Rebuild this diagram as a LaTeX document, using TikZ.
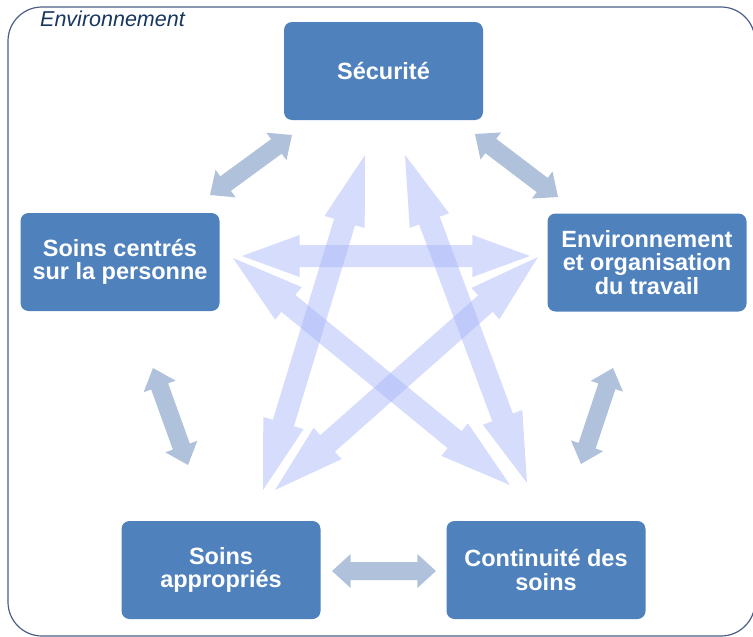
\documentclass[tikz,border=0pt]{standalone}
\usepackage{fontspec}
\setmainfont{Liberation Sans}
\usetikzlibrary{calc}

\definecolor{boxblue}{HTML}{4F81BD}
\definecolor{linkgray}{RGB}{176,193,219}
\definecolor{crossblue}{RGB}{171,185,249}
\definecolor{framenavy}{HTML}{4A5E86}
\definecolor{labelnavy}{HTML}{17375E}

\tikzset{
  pillar/.style={rectangle, rounded corners=8pt, fill=boxblue, text=white,
    minimum width=199pt, minimum height=98pt, inner sep=0pt, align=center,
    font=\fontsize{23.5}{23.5}\selectfont\bfseries},
  sidelink/.style={fill=linkgray},
  crosslink/.style={fill=crossblue, fill opacity=0.5},
}

% double block arrow: [style](from)(to)(head fraction:head half width:shaft half width)
\def\blockarrow[#1](#2)(#3)(#4:#5:#6){%
  \coordinate (ha) at ($(#2)!#4!(#3)$);
  \coordinate (hb) at ($(#3)!#4!(#2)$);
  \fill[#1] (#2) -- ($(ha)!#5!90:(#3)$) -- ($(ha)!#6!90:(#3)$)
    -- ($(hb)!#6!-90:(#2)$) -- ($(hb)!#5!-90:(#2)$) -- (#3)
    -- ($(hb)!#5!90:(#2)$) -- ($(hb)!#6!90:(#2)$)
    -- ($(ha)!#6!-90:(#3)$) -- ($(ha)!#5!-90:(#3)$) -- cycle;}

\begin{document}
\begin{tikzpicture}[x=1pt,y=-1pt]
  \useasboundingbox (0,0) rectangle (753,637);

  % outer frame
  \draw[framenavy, line width=1.2pt, rounded corners=34pt] (8,7) rectangle (755,636);
  \node[anchor=base west, text=labelnavy, inner sep=0pt,
    font=\fontsize{21.5}{24}\selectfont\itshape] (envlabel) at (40,27) {Environnement};

  % the five pillars
  \node[pillar] (sec)  at (383.5,71)  {Sécurité};
  \node[pillar] (pers) at (120,262)   {Soins centrés\\sur la personne};
  \node[pillar] (envt) at (647,262.5) {Environnement\\et organisation\\du travail};
  \node[pillar] (appr) at (221,570)   {Soins\\appropriés};
  \node[pillar] (cont) at (546,570)   {Continuité des\\soins};

  % arrow ends
  \coordinate (secA)  at (292,135);  \coordinate (persA) at (210,195);
  \coordinate (secB)  at (475,134);  \coordinate (envtA) at (558,197);
  \coordinate (persB) at (153,368);  \coordinate (apprA) at (188,465);
  \coordinate (envtB) at (613,368);  \coordinate (contA) at (581,464);
  \coordinate (apprB) at (332,571);  \coordinate (contB) at (436,571);

  \coordinate (persC) at (242,256);  \coordinate (envtC) at (530,256);
  \coordinate (secC)  at (365,155);  \coordinate (apprC) at (263,490);
  \coordinate (secD)  at (405,155);  \coordinate (contC) at (527,483);
  \coordinate (persD) at (233,258);  \coordinate (contD) at (510,485);
  \coordinate (envtD) at (538,257);  \coordinate (apprD) at (275,490);

  % star between the pillars
  \blockarrow[crosslink](persC)(envtC)(0.2:21pt:11pt)
  \blockarrow[crosslink](secC)(apprC)(0.2:21pt:11pt)
  \blockarrow[crosslink](secD)(contC)(0.2:21pt:11pt)
  \blockarrow[crosslink](persD)(contD)(0.2:21pt:11pt)
  \blockarrow[crosslink](envtD)(apprD)(0.2:21pt:11pt)

  % links around the ring
  \blockarrow[sidelink](secA)(persA)(0.19:17pt:9pt)
  \blockarrow[sidelink](secB)(envtA)(0.19:17pt:9pt)
  \blockarrow[sidelink](persB)(apprA)(0.19:17pt:9pt)
  \blockarrow[sidelink](envtB)(contA)(0.19:17pt:9pt)
  \blockarrow[sidelink](apprB)(contB)(0.18:17pt:9pt)
\end{tikzpicture}
\end{document}
